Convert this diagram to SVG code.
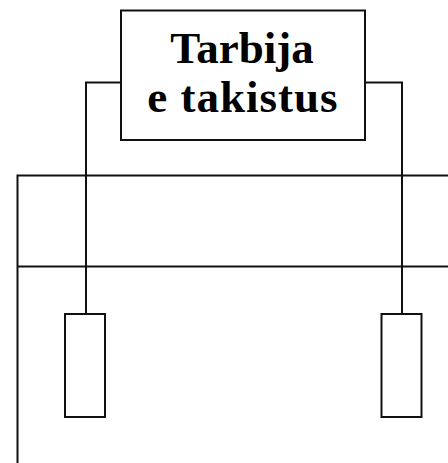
<svg xmlns="http://www.w3.org/2000/svg" width="448" height="463" viewBox="0 0 448 463">
  <style>
    .ln { fill: none; stroke: #111; stroke-width: 2; }
    .box { fill: #fff; stroke: #111; stroke-width: 2; }
    .lbl { font-family: "Liberation Serif", "Times New Roman", serif; font-weight: bold; font-size: 45px; fill: #000; text-anchor: middle; }
  </style>
  <rect width="448" height="463" fill="#fff"/>
  <g id="connectors">
    <!-- supply rails -->
    <polyline class="ln" points="448,175.5 17.5,175.5 17.5,463"/>
    <line class="ln" x1="17.5" y1="266.5" x2="448" y2="266.5"/>
    <!-- leads from the load to the resistors -->
    <polyline class="ln" points="121,82.5 86,82.5 86,314"/>
    <polyline class="ln" points="365,82.5 402,82.5 402,314"/>
  </g>
  <g id="load">
    <rect class="box" x="121" y="10.5" width="244" height="129.5"/>
    <text class="lbl" x="242" y="63">Tarbija</text>
    <text class="lbl" x="243" y="112" letter-spacing="1">e takistus</text>
  </g>
  <g id="resistor-left">
    <rect class="box" x="65" y="314" width="40" height="103"/>
  </g>
  <g id="resistor-right">
    <rect class="box" x="381.5" y="314" width="40" height="103"/>
  </g>
</svg>
